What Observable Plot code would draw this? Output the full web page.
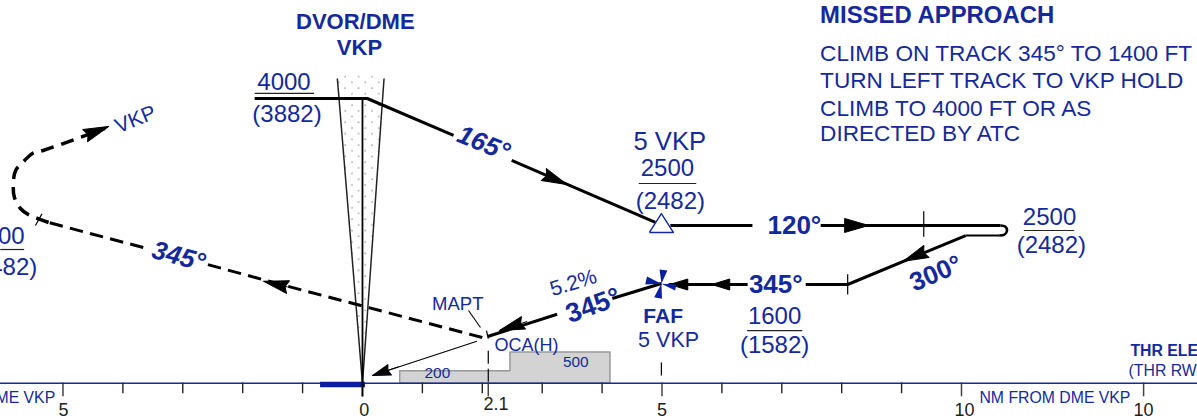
<!DOCTYPE html>
<html><head><meta charset="utf-8">
<script src="https://cdn.jsdelivr.net/npm/d3@7"></script>
<script src="https://cdn.jsdelivr.net/npm/@observablehq/plot@0.6"></script>
<style>html,body{margin:0;padding:0;background:#fff}svg{display:block}</style>
</head><body><div id="chart"></div>
<script>
// All points are [NM from DME VKP, altitude in ft]
const inboundLeg1 = [[-1.80,4000],[0.08,4000],[1.52,3567]];
const inboundLeg2 = [[2.49,3274],[4.89,2547]];
const outboundA = [[5.14,2512],[6.51,2512]];
const outboundB = [[7.65,2512],[10.65,2512]];
const procTurn = [[10.65,2512],[10.73,2500],[10.76,2438],[10.72,2376],[10.63,2360]];
const turnTail = [[10.63,2360],[10.07,2360]];
const baseLeg = [[10.07,2360],[8.10,1600]];
const intermediateA = [[8.10,1600],[7.40,1600]];
const intermediateB = [[6.43,1600],[5.11,1600]];
const finalA = [[4.99,1616],[4.17,1374]];
const finalB = [[3.25,1120],[2.09,760]];
const missedA = [[2.00,743],[-1.36,1600],[-2.65,1926]];
const missedB = [[-3.66,2174],[-4.99,2500],[-5.24,2547]];
const missedTurn = [[-5.24,2547],[-5.46,2605],[-5.58,2641],[-5.71,2711],[-5.81,2840],[-5.83,2981],[-5.79,3156],[-5.64,3274],[-5.51,3356],[-5.33,3391],[-4.62,3567],[-4.30,3650]];
const gpLeader = [[1.91,684],[0.17,129]];
const maptLeader = [[1.77,1180],[1.97,905]];
const maptStub = [[2.07,855],[2.10,725]];
const maptDrop = [[2.10,530],[2.10,5]];
const fafDrop = [[4.99,340],[4.99,130]];

const arrowsBarbed = [
  [[3.06,3098],[3.41,2992]],
  [[9.39,2103],[9.03,1962]],
  [[2.75,1002],[2.29,856]],
  [[-1.25,1559],[-1.65,1651]],
  [[-4.62,3567],[-4.24,3672]]
];
const arrowPlain = [[8.08,2512],[8.45,2512]];
const arrowsSmall = [
  [[6.14,1600],[5.83,1600]],
  [[5.28,1600],[5.13,1600]]
];
const arrowLeader = [[0.60,270],[0.17,129]];

const fixTicks = [
  [[9.37,2680],[9.37,2340]],
  [[8.10,1760],[8.10,1440]],
  [[-5.35,2649],[-5.46,2512]]
];
const fafBlades = [
  [[4.99,1611],[4.96,1833],[5.09,1817]],
  [[4.99,1611],[4.87,1395],[5.00,1369]],
  [[4.99,1611],[4.75,1724],[4.72,1600]],
  [[4.99,1611],[5.24,1600],[5.22,1503]]
];
const iafTriangle = [[4.79,2407],[5.19,2407],[4.99,2652],[4.79,2407]];

const coneLeft = [[0,0],[-0.136,1600],[-0.216,2500],[-0.392,4000],[-0.42,4235]];
const coneRight = [[0,0],[0.117,1600],[0.185,2500],[0.336,4000],[0.36,4235]];
const coneFill = [[0,0],[0.117,1600],[0.185,2500],[0.336,4000],[0.37,4270],[-0.43,4270],[-0.392,4000],[-0.216,2500],[-0.136,1600],[0,0]];
const coneCenter = [[0,4000],[0,-210]];

const ocaX = [0.63,2.47,4.14];
const ocaH = [200,500,500];

const minorTicks = [-4,-3,-2,-1,1,2,3,4,6,7,8,9];
const majorTicks = [-5,0,2.1,5,10,13.04];
const altRules = [[-1.79,-0.80,4059],[4.62,5.58,3004],[11.05,11.89,2438],[-6.04,-5.64,2143],[6.43,7.35,856]];
const dmeBar = [[-0.70,0.05]];

const axisLabels = [["5",-4.99,-428],["0",0.03,-428],["2.1",2.23,-331],["5",5.0,-428],["10",10.05,-428],["10",13.04,-428]];
const altLabels = [["4000",-1.31,4184],["(3882)",-1.26,3814],["2500",5.09,3180],["(2482)",5.14,2801],["2500",11.47,2605],["(2482)",11.50,2205],["1600",6.88,1083],["(1582)",6.88,614]];
const missedTitle = "MISSED APPROACH";
const missedLines = [["CLIMB ON TRACK 345° TO 1400 FT",4524],["TURN LEFT TRACK TO VKP HOLD",4208],["CLIMB TO 4000 FT OR AS",3879],["DIRECTED BY ATC",3590]];
const navaid = [["DVOR/DME",-0.12,4903],["VKP",-0.05,4598]];
const COL = "#14299c";
const FONT = "'Liberation Sans', Arial, sans-serif";

const SVGNS = "http://www.w3.org/2000/svg";
function head(len, wid, notch) {
  return () => {
    const m = document.createElementNS(SVGNS, "marker");
    m.setAttribute("viewBox", `${-len-1} ${-wid/2-1} ${len+2} ${wid+2}`);
    m.setAttribute("markerWidth", len+2);
    m.setAttribute("markerHeight", wid+2);
    m.setAttribute("refX", 0); m.setAttribute("refY", 0);
    m.setAttribute("markerUnits", "userSpaceOnUse");
    m.setAttribute("orient", "auto");
    const p = document.createElementNS(SVGNS, "path");
    p.setAttribute("d", `M0,0L${-len},${-wid/2}L${-len+notch},0L${-len},${wid/2}Z`);
    p.setAttribute("fill", "#000");
    m.appendChild(p);
    return m;
  };
}
const defs = () => {
  const d = d3.create("svg:defs");
  const p = d.append("pattern").attr("id","coneDots").attr("patternUnits","userSpaceOnUse").attr("width",13.4).attr("height",11.4);
  p.append("rect").attr("width",13.4).attr("height",11.4).attr("fill","#fff");
  p.append("circle").attr("cx",3).attr("cy",2).attr("r",0.65).attr("fill","#333");
  p.append("circle").attr("cx",9.7).attr("cy",7.7).attr("r",0.65).attr("fill","#333");
  return d.node();
};
const line = (pts, o={}) => Plot.line(pts, {stroke:"#000", strokeWidth:3, strokeLinecap:"butt", ...o});
const label = (s, x, y, o={}) => Plot.text([{s,x,y}], {x:"x",y:"y",text:"s",fill:COL,fontSize:24,...o});
const IT = {fontWeight:"bold", fontStyle:"italic", fontSize:26};
const BD = {fontWeight:"bold", fontSize:26};
// the profile is drawn with a different vertical exaggeration in each altitude band
const profileHeight = d3.scaleLinear().domain([-598,0,1600,2500,4000,5149]).range([420,383,284,226,98,0]);

const plot = Plot.plot({
  width:1197, height:420, margin:0,
  style:{background:"#fff", fontFamily:FONT, overflow:"hidden"},
  x:{domain:[-6.043,13.94], range:[0,1197], axis:null},
  y:{transform:profileHeight, domain:[420,0], range:[420,0], axis:null},
  marks:[
    defs,
    line(coneFill,{stroke:null, strokeWidth:0, fill:"url(#coneDots)"}),
    line(coneLeft,{stroke:"#222",strokeWidth:1.5}),
    line(coneRight,{stroke:"#222",strokeWidth:1.5}),
    Plot.areaY([0,1,2],{x:i=>ocaX[i],y1:0,y2:i=>ocaH[i],curve:"step-after",fill:"#d3d3d3",stroke:"#9a9a9a",strokeWidth:1.5}),
    ...minorTicks.map(t=>Plot.ruleX([t],{y1:10,y2:-165,stroke:"#222",strokeWidth:1.4})),
    ...majorTicks.map(t=>Plot.ruleX([t],{y1:10,y2:-215,stroke:"#444",strokeWidth:1.5})),
    Plot.ruleY([5],{stroke:COL,strokeWidth:1.4}),
    ...dmeBar.map(([a,b])=>Plot.ruleY([-15],{x1:a,x2:b,stroke:"#0a1ea0",strokeWidth:5.5})),
    line(coneCenter,{strokeWidth:1.8}),
    line(inboundLeg1), line(inboundLeg2), line(outboundA), line(outboundB),
    line(procTurn,{curve:"catmull-rom",strokeWidth:2.6}), line(turnTail,{strokeWidth:2}), line(baseLeg),
    line(intermediateA), line(intermediateB), line(finalA), line(finalB),
    line(missedA,{strokeDasharray:"13.5,7.3",strokeWidth:3}),
    line(missedB,{strokeDasharray:"13.5,7.3",strokeWidth:3}),
    line(missedTurn,{curve:"catmull-rom",strokeDasharray:"13,8",strokeWidth:3.5}),
    line(gpLeader,{strokeWidth:1.1}),
    line(maptLeader,{strokeWidth:1.1}),
    line(maptStub,{strokeWidth:1.2}),
    line(maptDrop,{strokeWidth:1.2,strokeDasharray:"13,5"}),
    line(fafDrop,{strokeWidth:1.2}),
    ...fixTicks.map(t=>line(t,{strokeWidth:1.2})),
    ...arrowsBarbed.map(a=>line(a,{strokeWidth:1,markerEnd:head(25,13,3)})),
    line(arrowPlain,{strokeWidth:1,markerEnd:head(24,14,0)}),
    ...arrowsSmall.map(a=>line(a,{strokeWidth:1,markerEnd:head(18,11,0)})),
    line(arrowLeader,{strokeWidth:1,markerEnd:head(18,11,2)}),
    ...fafBlades.map(b=>line(b,{stroke:null,strokeWidth:0,fill:"#0a1ea0"})),
    line(iafTriangle,{stroke:COL,strokeWidth:1.4,fill:"#fff"}),
    ...altRules.map(([a,b,y])=>Plot.ruleY([y],{x1:a,x2:b,stroke:"#222",strokeWidth:1.2})),
    ...altLabels.map(([s,x,y])=>label(s,x,y)),
    label("1500",-5.64,2340,{textAnchor:"end"}),
    label("(1482)",-5.43,1859,{textAnchor:"end"}),
    label("5 VKP",5.13,3493,{fontSize:25.6}),
    label(navaid[0][0],navaid[0][1],navaid[0][2],{fontWeight:"bold",fontSize:22}),
    label(navaid[1][0],navaid[1][1],navaid[1][2],{fontWeight:"bold",fontSize:22}),
    label(missedTitle,7.64,4971,{fontWeight:"bold",fontSize:23.9,textAnchor:"start"}),
    ...missedLines.map(([s,y])=>label(s,7.64,y,{fontSize:22.6,textAnchor:"start"})),
    label("165°",2.02,3473,{...IT,rotate:22}),
    label("345°",-3.07,2035,{...IT,rotate:15}),
    label("120°",7.21,2512,{...BD}),
    label("345°",6.90,1605,{...BD}),
    label("300°",9.57,1771,{...BD,rotate:-23}),
    label("345°",3.85,1260,{...BD,fontSize:27,rotate:-20}),
    label("5.2%",3.52,1625,{fontSize:21,rotate:-17}),
    label("VKP",-3.79,3754,{fontSize:21,rotate:-22}),
    label("MAPT",1.59,1277,{fontSize:18.5}),
    label("OCA(H)",2.74,611,{fontSize:18}),
    label("200",1.25,162,{fontSize:15.4}),
    label("500",3.56,339,{fontSize:15.4}),
    label("FAF",5.02,1083,{fontWeight:"bold",fontSize:21}),
    label("5 VKP",5.11,695,{fontSize:21.5}),
    label("NM FROM DME VKP",10.30,-226,{fontSize:15.8,textAnchor:"start"}),
    label("NM FROM DME VKP",-5.13,-226,{fontSize:15.8,textAnchor:"end"}),
    label("THR ELEV",12.82,533,{fontWeight:"bold",fontSize:15.8,textAnchor:"start"}),
    label("(THR RWY",12.79,207,{fontSize:15.8,textAnchor:"start"}),
    ...axisLabels.map(([s,x,y])=>label(s,x,y,{fill:"#222",fontSize:18}))
  ]
});
document.getElementById("chart").appendChild(plot);
</script></body></html>
